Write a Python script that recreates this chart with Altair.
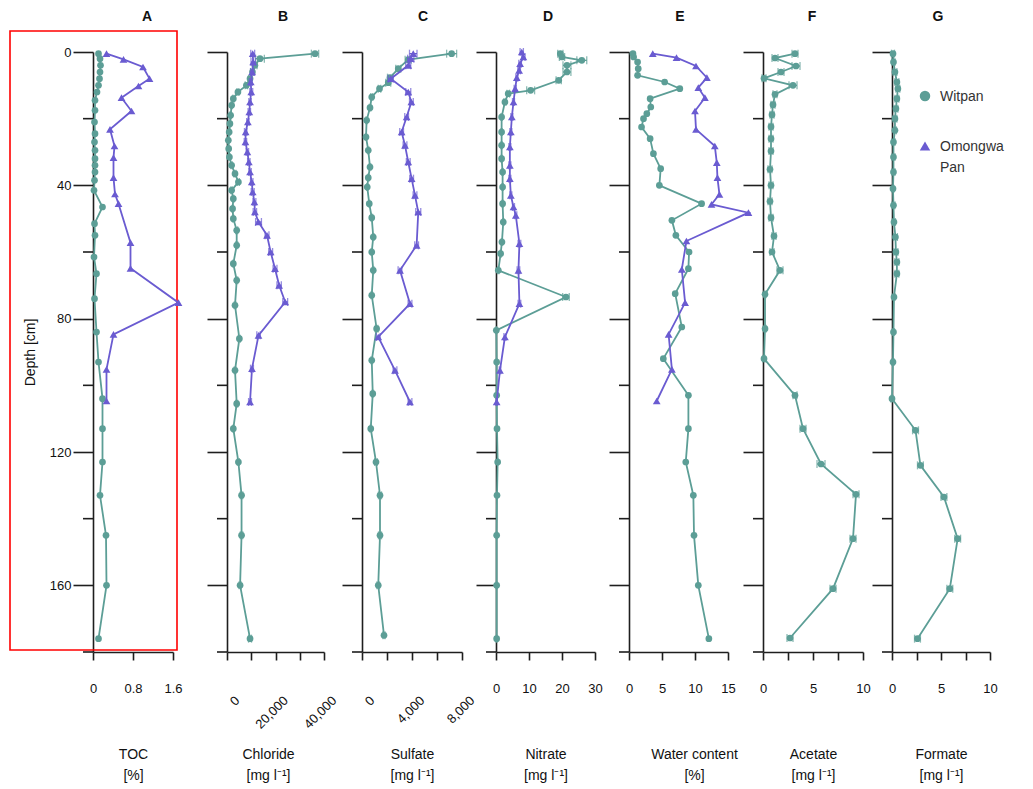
import altair as alt
import pandas as pd

TEAL = "#5c9e96"
PURPLE = "#6a5bd1"
AXC = "#1e1e1e"
FONT = "Liberation Sans"

# ---------------- A: TOC [%]
toc_wit_depth = [0.5, 2, 4, 6, 8, 10, 12, 14.5, 17.5, 21, 24.5, 27, 29.5, 32, 34, 36, 38.5, 41.5,
                 46.5, 51.5, 55, 61.5, 66.5, 74, 84, 93, 104, 113, 123, 133, 145, 160, 176]
toc_wit = [0.11, 0.14, 0.15, 0.14, 0.13, 0.11, 0.08, 0.04, 0.04, 0.03, 0.04, 0.03, 0.04, 0.04, 0.04, 0.04, 0.03, 0.02,
           0.19, 0.03, 0.04, 0.02, 0.07, 0.03, 0.07, 0.11, 0.19, 0.19, 0.19, 0.14, 0.26, 0.27, 0.11]
toc_om_depth = [0.5, 2.2, 4.5, 8, 10.2, 13.7, 17.7, 23.2, 28.2, 31.7, 37.7, 42.6, 45.5, 57.2, 64.9, 75.2, 84.7, 95.2, 104.7]
toc_om = [0.27, 0.61, 1.0, 1.13, 0.91, 0.57, 0.77, 0.34, 0.43, 0.41, 0.41, 0.44, 0.51, 0.75, 0.75, 1.71, 0.41, 0.27, 0.27]

# ---------------- B: Chloride [mg l-1]
cl_wit_depth = [0.5, 2, 4, 6, 8, 10, 12, 14, 16, 19, 21.5, 24, 26.5, 29, 31.5, 34, 36.5, 39, 41.5, 44,
                47, 50, 53.5, 58, 63.5, 68.5, 76, 86, 95.5, 105.5, 113, 123, 133, 145, 160, 176]
cl_wit = [36300, 13600, 11500, 10500, 9500, 8000, 4500, 2600, 1900, 1500, 1200, 900, 550, 700, 1000, 1900, 3300, 4700,
          1900, 2600, 2300, 2600, 4000, 4000, 2600, 4000, 3300, 5100, 3300, 4000, 2600, 4700, 6000, 6000, 5400, 9500]
cl_wit_err = [1500, 1800, 900, 700, 600, 500, 400, 300, 300, 300, 300, 300, 300, 300, 300, 300, 400, 400, 300, 300,
              300, 300, 400, 400, 300, 400, 300, 400, 300, 400, 300, 400, 500, 500, 400, 600]
cl_om_depth = [0.5, 3, 6, 9, 12, 15, 18, 21, 24, 27, 30, 33, 36, 39, 42, 45, 48, 51, 55, 60, 65, 70, 75, 85, 95, 105]
cl_om = [10600, 10800, 10400, 9800, 10000, 9500, 9200, 8600, 7700, 7600, 8400, 9000, 9500, 10200, 10600, 11300, 11500,
         13000, 16500, 18000, 19800, 21500, 24000, 13000, 10300, 9500]
cl_om_err = [800, 900, 700, 600, 600, 500, 500, 500, 500, 500, 500, 500, 500, 500, 600, 600, 700, 1200, 800, 800,
             800, 900, 1000, 700, 600, 600]

# ---------------- C: Sulfate [mg l-1]
so4_wit_depth = [0.5, 2.3, 5, 7.7, 9.2, 11, 13.5, 16.7, 20.5, 25.5, 29.5, 34.5, 37.7, 40.5, 45.5, 49.7, 55.5, 60,
                 65.5, 73, 83, 92.5, 102.5, 113, 123, 133, 145, 160, 175]
so4_wit = [7170, 3700, 2900, 2240, 2100, 1400, 780, 640, 370, 320, 500, 640, 500, 420, 580, 780, 900, 780,
           900, 780, 1170, 780, 860, 700, 1120, 1440, 1440, 1300, 1760]
so4_wit_err = [400, 250, 200, 200, 200, 100, 80, 60, 50, 50, 50, 60, 50, 50, 50, 60, 60, 60,
               60, 60, 100, 60, 60, 60, 100, 120, 120, 100, 80]
so4_om_depth = [0.5, 2, 4, 8, 12, 15, 19.5, 24, 28, 33, 38, 43, 48, 58, 65.5, 75.5, 85.5, 95.5, 105]
so4_om = [4100, 3900, 3700, 2300, 3700, 3950, 3570, 3170, 3440, 3700, 3970, 4240, 4500, 4370, 3040, 3840, 1300, 2640, 3840]
so4_om_err = [300, 250, 200, 200, 200, 150, 150, 150, 150, 150, 150, 150, 200, 150, 150, 150, 150, 150, 150]

# ---------------- D: Nitrate [mg l-1]
no3_wit_depth = [0.5, 1.5, 2.5, 4, 6, 8.5, 11.5, 12.5, 15, 19.5, 24, 28, 32, 36, 40.5, 45.5, 51, 57, 60.5, 65.5,
                 73.5, 83.5, 93, 103, 113, 123, 133, 145, 160, 176]
no3_wit = [19.5, 20, 26, 21.5, 21.5, 19, 10.5, 3.7, 2.7, 1.7, 1.7, 1.7, 1.7, 2.0, 2.0, 2.0, 2.2, 1.8, 1.4, 0.7,
           21.2, 0.1, 0.2, 0.2, 0.3, 0.5, 0.3, 0.2, 0.2, 0.2]
no3_wit_err = [0.8, 0.8, 1.5, 1.2, 1.2, 0.8, 1.2, 0.4, 0.3, 0.2, 0.2, 0.2, 0.2, 0.2, 0.2, 0.2, 0.2, 0.2, 0.2, 0.2,
               1.0, 0.1, 0.1, 0.1, 0.1, 0.1, 0.1, 0.1, 0.1, 0.1]
no3_om_depth = [0, 1.5, 3.5, 5.5, 7.7, 11, 15, 19.5, 24, 28.5, 34, 38, 43, 46.5, 49, 57.5, 65.5, 75.5, 85.5, 95.5, 105]
no3_om = [7.8, 8.3, 7.3, 7.0, 6.3, 5.8, 5.3, 4.8, 4.5, 4.2, 4.2, 4.2, 4.5, 5.3, 6.0, 7.1, 6.8, 7.1, 2.7, 1.2, 0.2]
no3_om_err = [0.5, 0.5, 0.4, 0.4, 0.3, 0.3, 0.3, 0.3, 0.3, 0.3, 0.3, 0.3, 0.3, 0.3, 0.3, 0.4, 0.4, 0.4, 0.3, 0.2, 0.2]

# ---------------- E: Water content [%]
wc_wit_depth = [0.5, 1.5, 3, 5, 7, 9, 11, 14, 16.5, 18.5, 20, 22.5, 26, 30.5, 35, 40, 45.5, 50.5, 55, 60,
                65, 72.5, 82.5, 92, 103, 113, 123, 133, 145, 160, 176]
wc_wit = [0.6, 0.7, 1.3, 1.4, 1.3, 5.4, 7.7, 3.2, 3.3, 2.7, 2.2, 1.9, 3.2, 3.7, 4.8, 4.6, 11.0, 6.5, 7.1, 9.1,
          9.0, 7.0, 8.0, 5.2, 9.0, 9.0, 8.6, 9.75, 9.85, 10.5, 12.1]
wc_om_depth = [0.5, 1.7, 4.2, 7.7, 10.7, 13.7, 17.7, 23.2, 28.2, 33.2, 37.7, 42.7, 45.7, 48.2, 56.7, 65.2, 75.2,
               84.7, 95.2, 104.7]
wc_om = [3.6, 7.2, 10.15, 11.8, 10.5, 11.5, 10.0, 10.15, 13.0, 13.3, 13.4, 13.7, 12.5, 18.1, 8.7, 8.0, 8.5, 6.0, 6.5, 4.2]

# ---------------- F: Acetate [mg l-1]
ac_wit_depth = [0.5, 1.8, 4.2, 6, 7.9, 10, 12.7, 15.8, 18.8, 22.4, 26, 29.7, 35.2, 40, 44.8, 49.7, 55.2, 60, 65.5,
                72.7, 83, 92, 103, 113, 123.6, 132.7, 146, 161, 175.8]
ac_wit = [3.2, 1.2, 3.3, 1.8, 0.1, 3.0, 1.2, 1.0, 0.9, 0.8, 0.8, 0.8, 0.7, 0.8, 0.7, 0.8, 1.1, 0.9, 1.7,
          0.2, 0.2, 0.1, 3.2, 4.0, 5.8, 9.3, 9.0, 7.0, 2.7]
ac_wit_err = [0.3, 0.3, 0.4, 0.3, 0.2, 0.4, 0.2, 0.2, 0.2, 0.2, 0.2, 0.2, 0.2, 0.2, 0.2, 0.2, 0.2, 0.2, 0.3,
              0.1, 0.1, 0.1, 0.2, 0.3, 0.4, 0.3, 0.3, 0.3, 0.3]

# ---------------- G: Formate [mg l-1]
fo_wit_depth = [0.5, 3, 6, 9, 11, 14, 17, 20, 23.5, 27, 31.5, 36, 41, 46, 51, 55.5, 60, 63, 66.5, 73.5,
                84, 93, 104, 113.5, 124, 133.5, 146, 161, 176]
fo_wit = [0.1, 0.15, 0.3, 0.5, 0.6, 0.5, 0.4, 0.3, 0.3, 0.15, 0.15, 0.15, 0.1, 0.15, 0.2, 0.35, 0.4, 0.5, 0.5, 0.2,
          0.15, 0.1, 0.0, 2.4, 2.9, 5.3, 6.7, 5.9, 2.6]
fo_wit_err = [0.15, 0.15, 0.2, 0.2, 0.2, 0.2, 0.2, 0.2, 0.15, 0.15, 0.15, 0.15, 0.1, 0.15, 0.15, 0.2, 0.2, 0.2, 0.2, 0.1,
              0.1, 0.1, 0.1, 0.3, 0.3, 0.3, 0.3, 0.3, 0.3]

MAJOR_TICKS = [0, 40, 80, 120, 160]
MINOR_TICKS = [20, 60, 100, 140, 180]
UNIT = "[mg l\u207b\u00b9]"

one = pd.DataFrame({"k": [0]})


def frame(depth, val, err=None):
    d = pd.DataFrame({"depth": depth, "v": val})
    if err is not None:
        d["lo"] = [a - e for a, e in zip(val, err)]
        d["hi"] = [a + e for a, e in zip(val, err)]
    return d


def series_layers(data, color, shape, size, X, Y):
    base = alt.Chart(data)
    out = [base.mark_line(color=color, strokeWidth=1.8).encode(x=X("v:Q"), y=Y, order="depth:Q")]
    if "lo" in data.columns:
        out.append(base.mark_rule(color=color, strokeWidth=1.3).encode(x=X("lo:Q"), x2="hi:Q", y=Y))
        for f in ("lo", "hi"):
            out.append(base.mark_tick(color=color, orient="vertical", size=8, thickness=1.3)
                       .encode(x=X(f + ":Q"), y=Y))
    out.append(base.mark_point(shape=shape, filled=True, size=size, color=color, opacity=1)
               .encode(x=X("v:Q"), y=Y))
    return out


def panel(letter, letter_x, width, rng, domain, xvals, label_expr, title_lines, series,
          first=False, rotated=False, title_x=None, extra=None):
    xscale = alt.Scale(domain=domain, range=rng, nice=False, zero=False)
    ax = dict(values=xvals, labelExpr=label_expr, title=title_lines, tickSize=8, labelPadding=22,
              labelFlush=False, labelOverlap=False, titleY=95, titleBaseline="top", titleLineHeight=21,
              titleAlign="center")
    if rotated:
        ax.update(labelAngle=315, labelAlign="right", labelBaseline="middle", labelPadding=38, labelOffset=10)
    if title_x is not None:
        ax["titleX"] = title_x
    xaxis = alt.Axis(**ax)

    def X(f):
        return alt.X(f, scale=xscale, axis=xaxis)

    ys = alt.Scale(domain=[0, 180], reverse=True, nice=False, zero=False)
    if first:
        yaxis = alt.Axis(values=MAJOR_TICKS, tickSize=20, title="Depth [cm]", labelPadding=2, titlePadding=12)
    else:
        yaxis = alt.Axis(values=MAJOR_TICKS, tickSize=20, labels=False, title=None)
    Y = alt.Y("depth:Q", scale=ys, axis=yaxis)

    layers = []
    if extra:
        layers += extra
    minor = pd.DataFrame({"depth": MINOR_TICKS})
    layers.append(alt.Chart(minor).mark_rule(color=AXC, strokeWidth=1.6)
                  .encode(y=Y, x=alt.value(-10), x2=alt.value(0)))
    for data, color, shape, size in series:
        layers += series_layers(data, color, shape, size, X, Y)
    layers.append(alt.Chart(one).mark_text(text=letter, fontSize=14, fontWeight="bold", align="center",
                                           baseline="middle", color="#111111")
                  .encode(x=alt.value(letter_x), y=alt.value(-35)))
    return alt.layer(*layers).properties(width=width, height=600)


red_box = (alt.Chart(one).mark_rect(fillOpacity=0, stroke="#ff0000", strokeWidth=1.6)
           .encode(x=alt.value(-83), x2=alt.value(84), y=alt.value(-21), y2=alt.value(598)))

legend = [
    alt.Chart(one).mark_point(shape="circle", filled=True, size=110, color=TEAL, opacity=1)
    .encode(x=alt.value(33), y=alt.value(44)),
    alt.Chart(one).mark_text(text="Witpan", align="left", baseline="middle", fontSize=14, color="#333333")
    .encode(x=alt.value(48), y=alt.value(45)),
    alt.Chart(one).mark_point(shape="triangle-up", filled=True, size=110, color=PURPLE, opacity=1)
    .encode(x=alt.value(33), y=alt.value(94)),
    alt.Chart(one).mark_text(text="Omongwa", align="left", baseline="middle", fontSize=14, color="#333333")
    .encode(x=alt.value(48), y=alt.value(95)),
    alt.Chart(one).mark_text(text="Pan", align="left", baseline="middle", fontSize=14, color="#333333")
    .encode(x=alt.value(48), y=alt.value(116)),
]

CIRC = ("circle", 45)
TRI = ("triangle-up", 60)

pA = panel("A", 54, 100, [0, 80], [0, 1.6], [0, 0.8, 1.6],
           "datum.value === 0 ? '0' : format(datum.value, '.1f')", ["TOC", "[%]"],
           [(frame(toc_wit_depth, toc_wit), TEAL, *CIRC), (frame(toc_om_depth, toc_om), PURPLE, *TRI)],
           first=True, extra=[red_box])
pB = panel("B", 56, 101, [0, 97], [0, 40000], [0, 10000, 20000, 30000, 40000],
           "datum.value % 20000 === 0 ? format(datum.value, ',') : ''", ["Chloride", UNIT],
           [(frame(cl_wit_depth, cl_wit, cl_wit_err), TEAL, *CIRC),
            (frame(cl_om_depth, cl_om, cl_om_err), PURPLE, *TRI)],
           rotated=True, title_x=41)
pC = panel("C", 61, 100, [0, 100], [0, 8000], [0, 2000, 4000, 6000, 8000],
           "datum.value % 4000 === 0 ? format(datum.value, ',') : ''", ["Sulfate", UNIT],
           [(frame(so4_wit_depth, so4_wit, so4_wit_err), TEAL, *CIRC),
            (frame(so4_om_depth, so4_om, so4_om_err), PURPLE, *TRI)],
           rotated=True)
pD = panel("D", 52, 99, [0, 99], [0, 30], [0, 10, 20, 30],
           "format(datum.value, 'd')", ["Nitrate", UNIT],
           [(frame(no3_wit_depth, no3_wit, no3_wit_err), TEAL, *CIRC),
            (frame(no3_om_depth, no3_om, no3_om_err), PURPLE, *TRI)])
pE = panel("E", 51, 100, [0, 99], [0, 15], [0, 5, 10, 15],
           "format(datum.value, 'd')", ["Water content", "[%]"],
           [(frame(wc_wit_depth, wc_wit), TEAL, *CIRC), (frame(wc_om_depth, wc_om), PURPLE, *TRI)],
           title_x=65)
pF = panel("F", 49, 95, [0, 100], [0, 10], [0, 2.5, 5, 7.5, 10],
           "datum.value % 5 === 0 ? format(datum.value, 'd') : ''", ["Acetate", UNIT],
           [(frame(ac_wit_depth, ac_wit, ac_wit_err), TEAL, *CIRC)])
pG = panel("G", 46, 100, [0, 98], [0, 10], [0, 2.5, 5, 7.5, 10],
           "datum.value % 5 === 0 ? format(datum.value, 'd') : ''", ["Formate", UNIT],
           [(frame(fo_wit_depth, fo_wit, fo_wit_err), TEAL, *CIRC)],
           extra=legend)

chart = (
    alt.hconcat(pA, pB, pC, pD, pE, pF, pG, spacing=34, bounds="flush")
    .properties(padding={"left": 1, "top": 2, "right": 2, "bottom": 2}, background="white")
    .configure(font=FONT)
    .configure_view(stroke=None)
    .configure_axis(domainColor=AXC, tickColor=AXC, domainWidth=1.6, tickWidth=1.6,
                    labelColor="#111111", titleColor="#111111", labelFontSize=13, titleFontSize=14,
                    titleFontWeight="normal", grid=False, labelFont=FONT, titleFont=FONT)
)

chart.save("out.html", embed_options={"renderer": "svg", "actions": False})
